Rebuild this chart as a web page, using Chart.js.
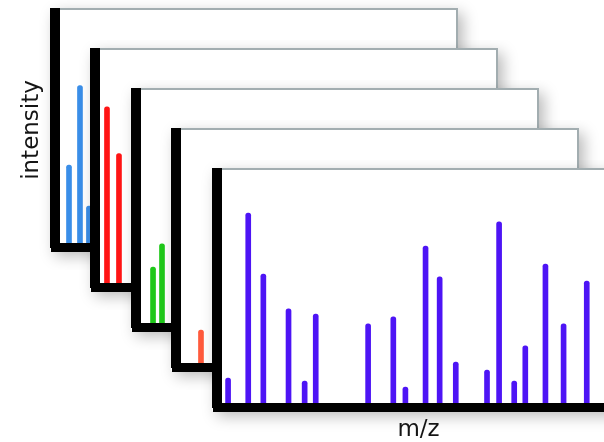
<!DOCTYPE html>
<html>
<head>
<meta charset="utf-8">
<script src="https://cdn.jsdelivr.net/npm/chart.js@4.4.1/dist/chart.umd.min.js"></script>
<style>
  html, body { margin: 0; padding: 0; background: #fff; overflow: hidden; }
  #app { position: relative; width: 604px; height: 442px; overflow: hidden; }
  #app canvas { position: absolute; }
</style>
</head>
<body>
<div id="app"></div>
<script>
// * spectra data, back panel first (m/z in arbitrary units 0-400, intensity 0-100)
const blueMz = [13.9, 24.8, 33.7];
const blueIntensity = [35, 69, 17.5];

const redMz = [11.9, 23.8];
const redIntensity = [77, 57];

const greenMz = [16.9, 25.8];
const greenIntensity = [25.6, 35.5];

const orangeMz = [24.8];
const orangeIntensity = [15.8];

const purpleMz = [11, 31, 46, 71, 87, 98, 150, 175, 187, 207, 221, 237, 268, 280, 295, 306, 326, 344, 367];
const purpleIntensity = [12.4, 82.9, 56.8, 41.9, 11.1, 39.7, 35.5, 38.5, 8.5, 68.8, 55.6, 19.2, 15.8, 79.1, 11.1, 26.1, 61.1, 35.5, 53.8];

const spectra = [
  { mz: blueMz, intensity: blueIntensity, color: "#3a8ee8" },
  { mz: redMz, intensity: redIntensity, color: "#ff1414" },
  { mz: greenMz, intensity: greenIntensity, color: "#1fc81a" },
  { mz: orangeMz, intensity: orangeIntensity, color: "#ff5a3c" },
  { mz: purpleMz, intensity: purpleIntensity, color: "#4d14f5" },
];

// * where each stacked panel sits on the page
const panelLeft = [0, 40, 81, 121, 162];
const panelTop = [0, 40, 80, 120, 160];

// * white card with grey edge and soft shadow behind every panel
const cardPlugin = {
  id: "card",
  beforeDraw(chart) {
    const { ctx, chartArea: a } = chart;
    const x = a.left - 5;
    const y = a.top - 5;
    const w = a.right - x;
    const h = a.bottom + 4 - y;
    ctx.save();
    ctx.shadowColor = "rgba(0,0,0,0.28)";
    ctx.shadowBlur = 14;
    ctx.shadowOffsetX = 5;
    ctx.shadowOffsetY = 5;
    ctx.fillStyle = "#fff";
    ctx.fillRect(x, y, w, h);
    ctx.restore();
    ctx.save();
    ctx.strokeStyle = "#a2adb0";
    ctx.lineWidth = 2;
    ctx.beginPath();
    ctx.moveTo(x, y + 1);
    ctx.lineTo(a.right - 1, y + 1);
    ctx.lineTo(a.right - 1, a.bottom);
    ctx.stroke();
    ctx.restore();
  },
};

const titleFont = { family: "DejaVu Sans", size: 23 };

spectra.forEach((s, k) => {
  const first = k === 0;
  const last = k === spectra.length - 1;

  const canvas = document.createElement("canvas");
  canvas.width = 480;
  canvas.height = last ? 290 : 270;
  canvas.style.left = panelLeft[k] + "px";
  canvas.style.top = panelTop[k] + "px";
  canvas.style.width = canvas.width + "px";
  canvas.style.height = canvas.height + "px";
  document.querySelector("#app").appendChild(canvas);

  new Chart(canvas, {
    type: "bar",
    data: {
      datasets: [
        {
          data: s.mz.map((m, i) => ({ x: m, y: s.intensity[i] })),
          backgroundColor: s.color,
          barThickness: 5,
          borderRadius: 3,
          borderSkipped: "bottom",
        },
      ],
    },
    options: {
      responsive: false,
      animation: false,
      layout: {
        padding: { left: first ? 18.2 : 55, top: 13, right: 22, bottom: last ? 0 : 23 },
      },
      plugins: { legend: { display: false }, tooltip: { enabled: false } },
      scales: {
        x: {
          type: "linear",
          min: 0,
          max: 400,
          offset: false,
          ticks: { display: false },
          grid: { display: false, drawTicks: false },
          border: { color: "#000", width: 9, z: 1 },
          title: {
            display: last,
            text: "m/z",
            color: "#151515",
            font: titleFont,
            padding: { top: 9.2, bottom: 6.2 },
          },
        },
        y: {
          min: 0,
          max: 100,
          ticks: { display: false },
          grid: { display: false, drawTicks: false },
          border: { color: "#000", width: 10, z: 1 },
          title: {
            display: first,
            text: "intensity",
            color: "#151515",
            font: titleFont,
            padding: { top: 0, bottom: 9.2 },
          },
        },
      },
    },
    plugins: [cardPlugin],
  });
});
</script>
</body>
</html>
